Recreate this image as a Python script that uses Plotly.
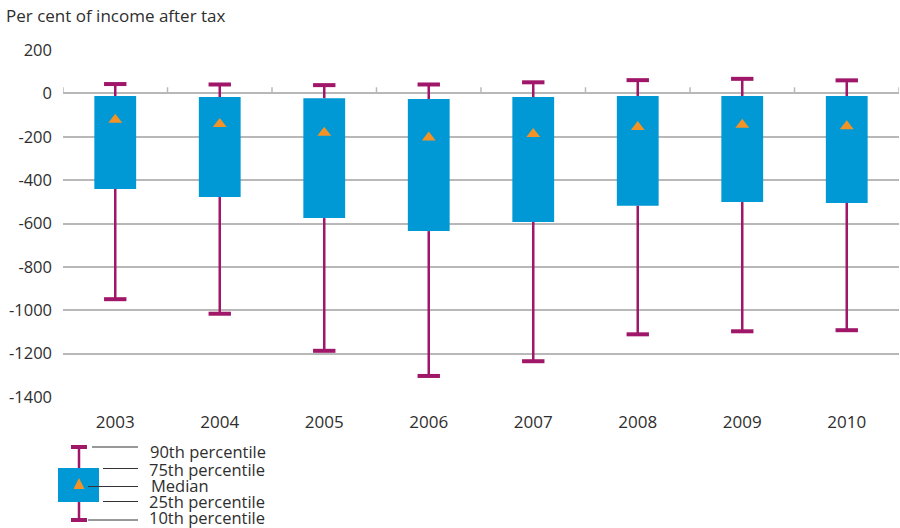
import plotly.graph_objects as go

# ---- data ----
years = ["2003", "2004", "2005", "2006", "2007", "2008", "2009", "2010"]
p90 = [43, 41, 38, 41, 51, 61, 67, 60]
p75 = [-12, -17, -22, -26, -17, -12, -12, -12]
median = [-122, -141, -181, -203, -187, -155, -145, -152]
p25 = [-441, -478, -575, -635, -593, -518, -501, -505]
p10 = [-949, -1016, -1187, -1303, -1235, -1111, -1097, -1092]

y_tick_vals = [200, 0, -200, -400, -600, -800, -1000, -1200, -1400]
y_tick_labels = ["200", "0", "-200", "-400", "-600", "-800", "-1000", "-1200", "-1400"]

title_text = "Per cent of income after tax"
legend_labels = ["90th percentile", "75th percentile", "Median", "25th percentile", "10th percentile"]

# ---- styles ----
BLUE = "#0099D6"
PURPLE = "#A0176A"
ORANGE = "#F39325"
GRID = "#b8b8b8"
TEXT = "#2e2e2e"
FONT = "Open Sans"

W, H = 900, 528
ML, MR, MT, MB = 63, 1, 50, 131
PW, PH = W - ML - MR, H - MT - MB


def px(x):
    return (x - ML) / PW


def py(y):
    return (H - MB - y) / PH


fig = go.Figure()

# whisker stems (outside the box)
wx, wy = [], []
for yr, hi, q3, q1, lo in zip(years, p90, p75, p25, p10):
    wx += [yr, yr, None, yr, yr, None]
    wy += [hi, q3, None, q1, lo, None]
fig.add_trace(go.Scatter(x=wx, y=wy, mode="lines",
                         line=dict(color=PURPLE, width=2.5),
                         hoverinfo="skip", showlegend=False))

# whisker caps
fig.add_trace(go.Scatter(x=years + years, y=p90 + p10, mode="markers",
                         marker=dict(symbol="line-ew", size=16,
                                     line=dict(color=PURPLE, width=4)),
                         hoverinfo="skip", showlegend=False))

# boxes (25th to 75th percentile)
fig.add_trace(go.Bar(x=years, y=[a - b for a, b in zip(p75, p25)], base=p25,
                     width=0.4, marker=dict(color=BLUE, line=dict(width=0)),
                     hoverinfo="skip", showlegend=False))

# medians
fig.add_trace(go.Scatter(x=years, y=median, mode="markers",
                         marker=dict(symbol="triangle-up", size=12, color=ORANGE,
                                     line=dict(width=0)),
                         hoverinfo="skip", showlegend=False))

shapes = []
# small category ticks on the zero line
for i in range(len(years) + 1):
    shapes.append(dict(type="line", xref="x", yref="y",
                       x0=i - 0.5, x1=i - 0.5, y0=0, y1=28,
                       line=dict(color=GRID, width=1.5), layer="below"))

# ---- custom legend (pixel-positioned) ----
lx = 79
shapes += [
    dict(type="line", xref="paper", yref="paper", x0=px(lx), x1=px(lx), y0=py(447), y1=py(520),
         line=dict(color=PURPLE, width=2.5)),
    dict(type="line", xref="paper", yref="paper", x0=px(71), x1=px(87), y0=py(447), y1=py(447),
         line=dict(color=PURPLE, width=4)),
    dict(type="line", xref="paper", yref="paper", x0=px(71), x1=px(87), y0=py(520), y1=py(520),
         line=dict(color=PURPLE, width=4)),
    dict(type="rect", xref="paper", yref="paper", x0=px(58), x1=px(99), y0=py(468), y1=py(502),
         fillcolor=BLUE, line=dict(width=0)),
    dict(type="path", xref="paper", yref="paper",
         path=f"M {px(73.5)} {py(489)} L {px(84.5)} {py(489)} L {px(79)} {py(478)} Z",
         fillcolor=ORANGE, line=dict(width=0)),
]
connectors = [(92, 447), (103, 468.5), (88, 486.5), (103, 501.5), (88, 520)]
for x0, yy in connectors:
    shapes.append(dict(type="line", xref="paper", yref="paper",
                       x0=px(x0), x1=px(138), y0=py(yy), y1=py(yy),
                       line=dict(color="#333333", width=1)))

annotations = []
text_y = [451, 469, 485, 501, 517.5]
text_x = [148, 147, 149, 147, 147]
for t, ty, tx in zip(legend_labels, text_y, text_x):
    annotations.append(dict(text=t, xref="paper", yref="paper", x=px(tx), y=py(ty),
                            xanchor="left", yanchor="middle", showarrow=False,
                            font=dict(family=FONT, size=16.5, color=TEXT)))

fig.update_layout(
    width=W, height=H,
    margin=dict(l=ML, r=MR, t=MT, b=MB),
    paper_bgcolor="white", plot_bgcolor="white",
    title=dict(text=title_text, xref="container", yref="container",
               x=6 / W, xanchor="left", y=1 - 16 / H, yanchor="middle",
               font=dict(family=FONT, size=17, color=TEXT)),
    xaxis=dict(type="category", range=[-0.5, len(years) - 0.5],
               showgrid=False, zeroline=False, showline=False, ticks="",
               ticklabelstandoff=13,
               tickfont=dict(family=FONT, size=17, color=TEXT)),
    yaxis=dict(range=[-1400, 200], tickvals=y_tick_vals, ticktext=y_tick_labels,
               showgrid=True, gridcolor=GRID, gridwidth=1.5, zeroline=False,
               showline=False, ticks="", ticklabelstandoff=10,
               tickfont=dict(family=FONT, size=16.5, color=TEXT)),
    shapes=shapes, annotations=annotations,
    bargap=0.6, showlegend=False,
)

fig.write_html("out.html", config={"displayModeBar": False},
               post_script="document.body.style.margin='0';document.body.style.padding='0';")
